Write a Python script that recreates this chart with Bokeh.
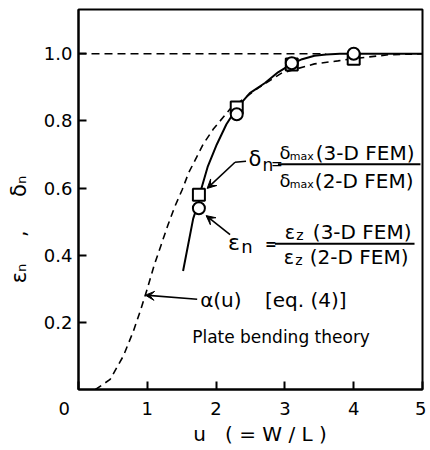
from bokeh.plotting import figure
from bokeh.models import Label, Arrow, VeeHead, FixedTicker, Range1d
from bokeh.embed import file_html
from bokeh.resources import INLINE

# ---- data ----
u_fem = [1.75, 2.3, 3.1, 4.0]
delta_n = [0.58, 0.84, 0.968, 0.985]     # squares
eps_n = [0.54, 0.82, 0.972, 1.0]         # circles

u_fit = [1.52, 1.667, 1.75, 1.76, 1.88, 2.01, 2.15, 2.3, 2.49, 2.71, 2.9, 3.1, 3.25, 3.43, 3.6, 3.8, 4.0, 5.0]
fit = [0.353, 0.509, 0.56, 0.58, 0.665, 0.73, 0.79, 0.838, 0.883, 0.913, 0.945, 0.97, 0.984, 0.994, 0.998, 1.0, 1.0, 1.0]

u_alpha = [0.246, 0.46, 0.652, 0.8, 0.9, 1.0, 1.1, 1.2, 1.3, 1.4, 1.507, 1.6, 1.81, 1.957, 2.2, 2.61, 2.957, 3.43, 3.77, 3.97, 4.5, 5.0]
alpha = [0.0, 0.03, 0.1, 0.175, 0.235, 0.30, 0.37, 0.43, 0.49, 0.545, 0.595, 0.645, 0.73, 0.775, 0.835, 0.898, 0.943, 0.97, 0.979, 0.985, 0.997, 1.0]

u_ref = [0.0, 3.6]
ref = [1.0, 1.0]

x_ticks = [0, 1, 2, 3, 4, 5]
y_ticks = [0.2, 0.4, 0.6, 0.8, 1.0]

FONT = "DejaVu Sans"
NB = "\u00a0"

p = figure(width=426, height=448, x_range=Range1d(0, 5), y_range=Range1d(0, 1.132),
           output_backend="svg", toolbar_location=None,
           min_border_left=78, min_border_right=4, min_border_top=9, min_border_bottom=54)
p.grid.visible = False
p.outline_line_color = "black"
p.outline_line_width = 2
p.background_fill_color = "white"
p.border_fill_color = "white"

for ax in (p.xaxis[0], p.yaxis[0]):
    ax.axis_line_width = 2
    ax.major_tick_line_width = 2
    ax.major_tick_out = 0
    ax.major_tick_in = 8
    ax.minor_tick_line_color = None
    ax.major_label_text_font = FONT
    ax.major_label_text_font_size = "18px"
    ax.major_label_text_color = "black"
    ax.axis_label_text_font = FONT
    ax.axis_label_text_font_style = "normal"
    ax.axis_label_text_color = "black"
    ax.axis_label_text_font_size = "20px"

p.xaxis.ticker = FixedTicker(ticks=x_ticks)
p.yaxis.ticker = FixedTicker(ticks=y_ticks)
p.xaxis.major_label_overrides = {0: "0" + NB * 5}
p.yaxis.major_label_overrides = {0.2: "0.2", 0.4: "0.4", 0.6: "0.6", 0.8: "0.8", 1.0: "1.0"}
p.xaxis.major_label_standoff = 8
p.yaxis.major_label_standoff = 6

p.xaxis.axis_label = NB * 3 + "u" + NB * 3 + "(" + NB + "=" + NB + "W" + NB + "/" + NB + "L" + NB + ")"
p.xaxis.axis_label_standoff = 0
p.yaxis.axis_label = "εₙ" + NB * 4 + "," + NB * 5 + "δₙ" + NB * 9
p.yaxis.axis_label_text_font_size = "21px"
p.yaxis.axis_label_standoff = 10

# curves
p.line(u_ref, ref, line_color="black", line_width=1.6, line_dash="8 5")
p.line(u_alpha, alpha, line_color="black", line_width=1.6, line_dash="7 5")
p.line(u_fit, fit, line_color="black", line_width=2)

# markers
p.scatter(u_fem, delta_n, marker="square", size=12, fill_color="white", line_color="black", line_width=2)
p.scatter(u_fem, eps_n, marker="circle", size=12, fill_color="white", line_color="black", line_width=2)


def lab(x, y, t, size, align="left", style="normal"):
    p.add_layout(Label(x=x, y=y, text=t, text_font=FONT, text_font_size=f"{size}px",
                       text_align=align, text_baseline="middle",
                       text_color="black", text_font_style=style))


# delta_n annotation
lab(2.565, 0.686, "δ", 21, "center")
lab(2.754, 0.668, "n", 17, "center")
lab(2.884, 0.671, "=", 14, "center")
p.line([2.899, 4.97], [0.671, 0.671], line_color="black", line_width=2)
lab(3.0, 0.707, "δ", 18, "center")
lab(3.246, 0.694, "max", 11, "center")
lab(3.449, 0.704, "(3-D FEM)", 20)
lab(3.0, 0.623, "δ", 18, "center")
lab(3.246, 0.610, "max", 11, "center")
lab(3.435, 0.620, "(2-D FEM)", 20)
p.line([2.435, 2.275], [0.680, 0.677], line_color="black", line_width=1.6)
p.add_layout(Arrow(x_start=2.275, y_start=0.677, x_end=1.87, y_end=0.599, line_width=1.6,
                   end=VeeHead(size=9, fill_color="black", line_color="black")))

# eps_n annotation
lab(2.261, 0.437, "ε", 22, "center")
lab(2.449, 0.425, "n", 18, "center")
lab(2.797, 0.434, "=", 14, "center", style="bold")
p.line([2.855, 4.884], [0.434, 0.434], line_color="black", line_width=2)
lab(3.072, 0.47, "ε", 19, "center")
lab(3.217, 0.461, "z", 14, "center")
lab(3.406, 0.47, "(3-D FEM)", 20)
lab(3.058, 0.395, "ε", 19, "center")
lab(3.203, 0.386, "z", 14, "center")
lab(3.362, 0.395, "(2-D FEM)", 20)
p.add_layout(Arrow(x_start=2.203, y_start=0.461, x_end=1.855, y_end=0.518, line_width=1.6,
                   end=VeeHead(size=9, fill_color="black", line_color="black")))

# alpha annotation
lab(1.768, 0.266, "α(u)", 20)
lab(2.71, 0.266, "[eq. (4)]", 20)
lab(1.652, 0.156, "Plate bending theory", 17)
p.add_layout(Arrow(x_start=1.725, y_start=0.269, x_end=0.971, y_end=0.281, line_width=1.6,
                   end=VeeHead(size=9, fill_color="black", line_color="black")))

open("out.html", "w").write(file_html(p, INLINE))
